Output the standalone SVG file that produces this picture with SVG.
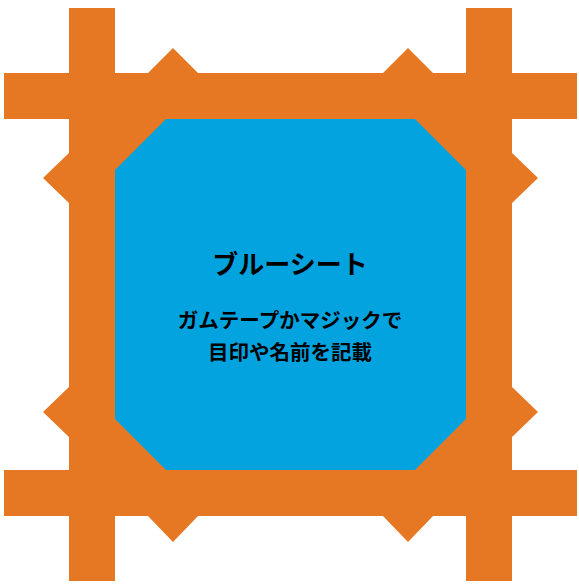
<svg xmlns="http://www.w3.org/2000/svg" width="579" height="586" viewBox="0 0 579 586">
<style>
.tape{fill:#E77823;}
.sheet{fill:#02A3DF;}
.t{font-family:"Noto Sans CJK JP","Noto Sans",sans-serif;font-weight:bold;fill:#000;text-anchor:middle;}
</style>
<rect width="579" height="586" fill="#FFFFFF"/>
<g id="tape-frame">
<rect class="tape" x="69" y="8" width="46" height="573"/>
<rect class="tape" x="466" y="8" width="46" height="573"/>
<rect class="tape" x="4" y="73" width="573" height="46"/>
<rect class="tape" x="4" y="470" width="573" height="46"/>
<rect class="tape" x="69" y="73" width="443" height="443"/>
<polygon class="tape" points="147,74 173,48 199,74"/>
<polygon class="tape" points="382,74 408,48 434,74"/>
<polygon class="tape" points="147,515 173,542 199,515"/>
<polygon class="tape" points="382,515 408,542 434,515"/>
<polygon class="tape" points="70,152 43,178 70,204"/>
<polygon class="tape" points="70,386 43,412 70,438"/>
<polygon class="tape" points="511,152 538,178 511,204"/>
<polygon class="tape" points="511,386 538,412 511,438"/>
</g>
<g id="blue-sheet">
<polygon class="sheet" points="166,119 415,119 466,170 466,419 415,470 166,470 115,419 115,170"/>
<text class="t" x="290" y="274" font-size="26">ブルーシート</text>
<text class="t" x="290" y="328" font-size="20.5">ガムテープかマジックで</text>
<text class="t" x="290" y="360" font-size="20.5">目印や名前を記載</text>
</g>
<g id="connectors"></g>
</svg>
